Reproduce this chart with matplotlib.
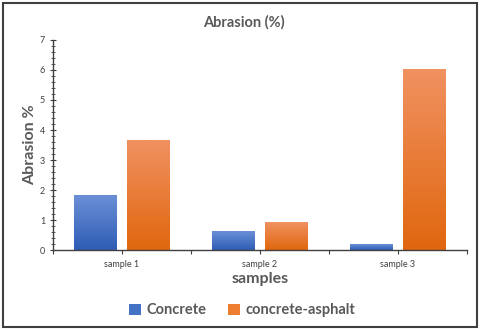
import numpy as np
import matplotlib
matplotlib.use("Agg")
import matplotlib.pyplot as plt
from matplotlib.patches import Rectangle, Patch
from matplotlib.colors import LinearSegmentedColormap
from matplotlib.ticker import MultipleLocator, FixedLocator

plt.rcParams['font.family'] = ['Lato', 'DejaVu Sans']

samples = ["sample 1", "sample 2", "sample 3"]
concrete = [1.80, 0.61, 0.17]
concrete_asphalt = [3.64, 0.91, 6.02]

series = [
    ("Concrete", concrete, "#4472C4", "#6a8fd6", "#2f5db5"),
    ("concrete-asphalt", concrete_asphalt, "#ED7D31", "#f09160", "#e0670f"),
]

text_col = "#595959"

fig = plt.figure(figsize=(4.8, 3.3), dpi=100)
ax = fig.add_axes([0.110, 0.2424, 0.863, 0.6364])

x = np.arange(len(samples))
width = 0.31
offsets = [-0.19, 0.19]

# vertical gradient fill per bar, like the spreadsheet style
for (name, vals, base, top, bottom), off in zip(series, offsets):
    cmap = LinearSegmentedColormap.from_list(name, [bottom, top])
    grad = np.linspace(0, 1, 64).reshape(-1, 1)
    for xi, v in zip(x, vals):
        x0 = xi + off - width / 2
        ax.imshow(grad, cmap=cmap, origin="lower", aspect="auto",
                  interpolation="bilinear",
                  extent=(x0, x0 + width, 0, v), zorder=2)

ax.set_xlim(-0.5, len(samples) - 0.5)
ax.set_ylim(0, 7)

ax.set_xticks(x)
ax.set_xticklabels(samples, fontsize=6.5, color="#404040")
ax.xaxis.set_minor_locator(FixedLocator(np.arange(-0.5, len(samples), 1.0)))
ax.tick_params(axis="x", which="both", direction="out", length=3, width=0.8,
               color="#404040", pad=4)

ax.yaxis.set_major_locator(MultipleLocator(1))
ax.yaxis.set_minor_locator(MultipleLocator(0.2))
ax.tick_params(axis="y", which="major", direction="inout", length=5, width=0.8,
               labelsize=6.5, labelcolor="#404040", color="#404040", pad=3)
ax.tick_params(axis="y", which="minor", direction="inout", length=2.5,
               width=0.6, color="#404040")

for side in ("top", "right"):
    ax.spines[side].set_visible(False)
for side in ("left", "bottom"):
    ax.spines[side].set_color("#404040")
    ax.spines[side].set_linewidth(1.0)
    ax.spines[side].set_zorder(4)

fig.text(0.508, 0.933, "Abrasion (%)", ha="center", va="center",
         fontsize=10.5, fontweight="bold", color=text_col)
ax.set_ylabel("Abrasion %", fontsize=11.5, fontweight="bold", color=text_col,
              labelpad=2)
ax.set_xlabel("samples", fontsize=11.5, fontweight="bold", color=text_col,
              labelpad=2)

handles = [Patch(facecolor=s[2], label=s[0]) for s in series]
fig.legend(handles=handles, loc="center", bbox_to_anchor=(0.505, 0.06),
           ncol=2, frameon=False, prop={"size": 10.5, "weight": "bold"},
           labelcolor=text_col, handlelength=0.8, handleheight=0.8,
           handletextpad=0.4, columnspacing=1.5)

fig.add_artist(Rectangle((0.006, 0.009), 0.987, 0.982, transform=fig.transFigure,
                         fill=False, edgecolor="#404040", linewidth=1.5))

fig.savefig("out.png", dpi=100)
